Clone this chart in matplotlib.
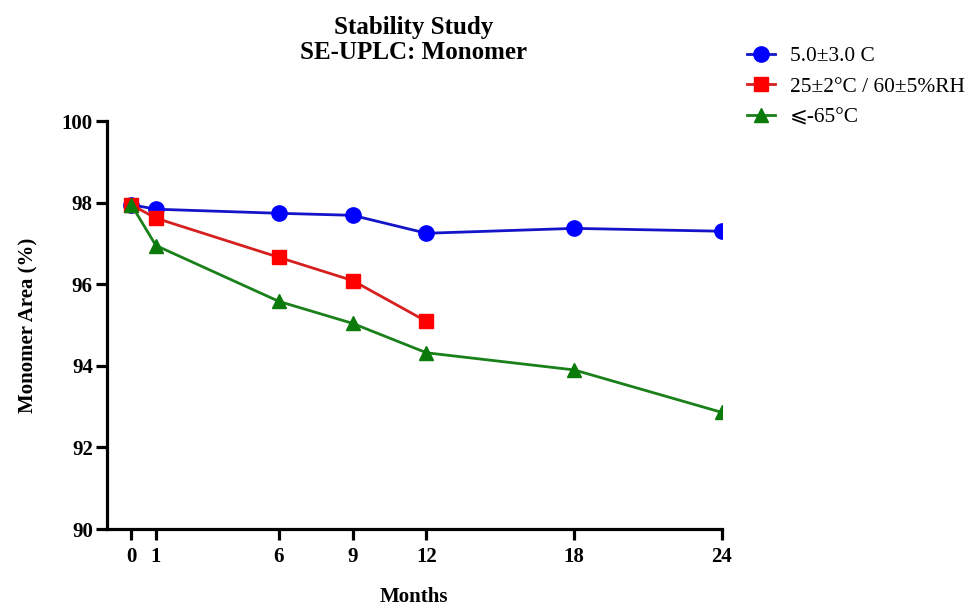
import matplotlib
matplotlib.use("Agg")
import matplotlib.pyplot as plt

plt.rcParams['font.family'] = ['Liberation Serif', 'DejaVu Serif', 'DejaVu Sans']

# data
months_all = [0, 1, 6, 9, 12, 18, 24]
months_25c = [0, 1, 6, 9, 12]
cold = [97.95, 97.84, 97.74, 97.69, 97.25, 97.37, 97.30]
accel = [97.95, 97.62, 96.66, 96.09, 95.09]
frozen = [97.95, 96.95, 95.58, 95.04, 94.32, 93.90, 92.86]
x_ticks = [0, 1, 6, 9, 12, 18, 24]
y_ticks = [90, 92, 94, 96, 98, 100]

fig = plt.figure(figsize=(9.7, 6.07), dpi=100)
ax = fig.add_axes([0.110, 0.1285, 0.634, 0.672])

ax.plot(months_all, cold, color="#1414c8", lw=2, marker="o", ms=11,
        mfc="#0000ff", mec="#0000ff", label="5.0±3.0 C")
ax.plot(months_25c, accel, color="#d62020", lw=2, marker="s", ms=10.5,
        mfc="#ff0000", mec="#ff0000", label="25±2°C / 60±5%RH")
ax.plot(months_all, frozen, color="#1a801a", lw=2, marker="^", ms=10.5,
        mfc="#0a7a0a", mec="#0a7a0a", label="⩽-65°C")

ax.set_xlim(-1, 24)
ax.set_ylim(90, 100)
ax.set_xticks(x_ticks)
ax.set_yticks(y_ticks)
ax.spines[['top', 'right']].set_visible(False)
for s in ['left', 'bottom']:
    ax.spines[s].set_linewidth(2.3)
ax.tick_params(width=2.3, length=8, labelsize=15)
ax.tick_params(axis='x', pad=5)
ax.tick_params(axis='y', pad=2)
for lab in ax.get_xticklabels() + ax.get_yticklabels():
    lab.set_fontweight("bold")

ax.set_xlabel("Months", fontsize=15, fontweight="bold", labelpad=14)
ax.set_ylabel("Monomer Area (%)", fontsize=15, fontweight="bold", labelpad=17)

fig.text(0.4268, 0.9555, "Stability Study", ha="center", va="center",
         fontsize=18, fontweight="bold")
fig.text(0.4268, 0.9127, "SE-UPLC: Monomer", ha="center", va="center",
         fontsize=18, fontweight="bold")

fig.legend(loc="upper left", bbox_to_anchor=(0.770, 0.924), frameon=False,
           fontsize=15.4, handlelength=1.3, handletextpad=0.7, labelspacing=0.5,
           borderpad=0, borderaxespad=0)

fig.savefig("out.png", dpi=100)
